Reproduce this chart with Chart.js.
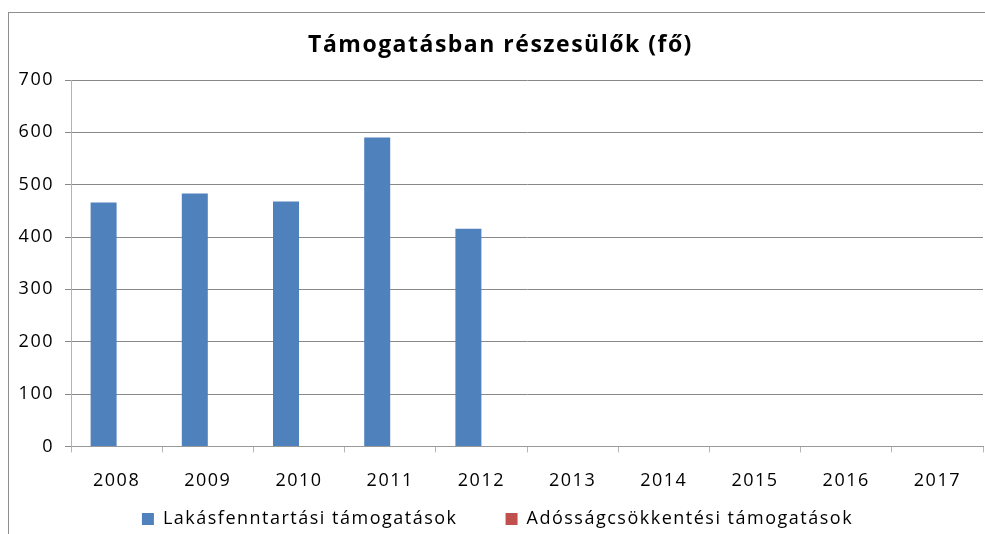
<!DOCTYPE html>
<html>
<head>
<meta charset="utf-8">
<script src="https://cdn.jsdelivr.net/npm/chart.js@4/dist/chart.umd.min.js"></script>
<style>
  html, body { margin: 0; padding: 0; background: #fff; overflow: hidden; width: 985px; height: 534px; }
  #frame { position: absolute; left: 8px; top: 12px; width: 1100px; height: 700px; border: 1px solid #8e8e8e; box-sizing: border-box; }
  #c { position: absolute; left: 0; top: 0; }
</style>
</head>
<body>
<div id="frame"></div>
<canvas id="c" width="985" height="534" style="width:985px;height:534px"></canvas>
<script>
const chartTitle = 'Támogatásban részesülők (fő)';
const years = ['2008', '2009', '2010', '2011', '2012', '2013', '2014', '2015', '2016', '2017'];
const seriesNames = ['Lakásfenntartási támogatások', 'Adósságcsökkentési támogatások'];
const lakasfenntartasi = [466, 483, 468, 590, 416, null, null, null, null, null];
const adossagcsokkentesi = [null, null, null, null, null, null, null, null, null, null];
const yTicks = [0, 100, 200, 300, 400, 500, 600, 700];

const LEGEND_PAD = 48;
const LEGEND_LAYOUT_H = 24;
const spacingPlugin = {
  id: 'spacing',
  beforeUpdate(chart) { chart.ctx.letterSpacing = '1.5px'; },
  beforeLayout(chart) {
    chart.ctx.letterSpacing = '1.5px';
    const lg = chart.legend;
    if (lg && !lg._fitPatched) {
      const origFit = lg.fit;
      lg.fit = function () { origFit.call(this); this.height = LEGEND_LAYOUT_H; };
      lg._fitPatched = true;
    }
  },
  afterLayout(chart) {
    const lg = chart.legend;
    if (lg) {
      lg.top = 519 - LEGEND_PAD - 9;
      lg.bottom = chart.height;
      lg.height = lg.bottom - lg.top;
      lg.left += 12;
      lg.width = lg.right - lg.left;
    }
    const tb = chart.titleBlock;
    if (tb) {
      tb.left += 18;
      tb.width = tb.right - tb.left;
    }
  },
  beforeDraw(chart) { chart.ctx.letterSpacing = '1.5px'; }
};

const FONT = "'Open Sans', 'DejaVu Sans', sans-serif";

new Chart(document.getElementById('c'), {
  type: 'bar',
  data: {
    labels: years,
    datasets: [
      { label: seriesNames[0], data: lakasfenntartasi, backgroundColor: '#4F81BD', borderWidth: 0 },
      { label: seriesNames[1], data: adossagcsokkentesi, backgroundColor: '#C0504D', borderWidth: 0 }
    ]
  },
  options: {
    responsive: false,
    animation: false,
    devicePixelRatio: 1,
    categoryPercentage: 0.57,
    barPercentage: 1.0,
    layout: { padding: { left: 0, right: 2, top: 0, bottom: 0 } },
    plugins: {
      tooltip: { enabled: false },
      title: {
        display: true,
        text: chartTitle,
        color: '#000',
        font: { family: FONT, size: 23, weight: 'bold', lineHeight: 1.2 },
        padding: { top: 32, bottom: 20.4 }
      },
      legend: {
        display: true,
        position: 'bottom',
        labels: {
          color: '#000',
          font: { family: FONT, size: 18 },
          boxWidth: 12,
          boxHeight: 12,
          padding: LEGEND_PAD
        }
      }
    },
    scales: {
      x: {
        offset: true,
        grid: { display: true, drawOnChartArea: false, drawTicks: true, tickLength: 6, color: '#b4b4b4', offset: true },
        border: { display: true, color: '#999999', width: 1 },
        ticks: { color: '#000', font: { family: FONT, size: 18 }, padding: 18, maxRotation: 0, autoSkip: false }
      },
      y: {
        min: 0,
        max: 700,
        afterFit(scale) { scale.width = 71; },
        afterBuildTicks(scale) { scale.ticks = yTicks.map(v => ({ value: v })); },
        grid: { color: '#888888', tickLength: 6, drawTicks: true },
        border: { display: true, color: '#b4b4b4', width: 1 },
        ticks: { color: '#000', font: { family: FONT, size: 18 }, padding: 11, stepSize: 100 }
      }
    }
  },
  plugins: [spacingPlugin]
});
</script>
</body>
</html>
